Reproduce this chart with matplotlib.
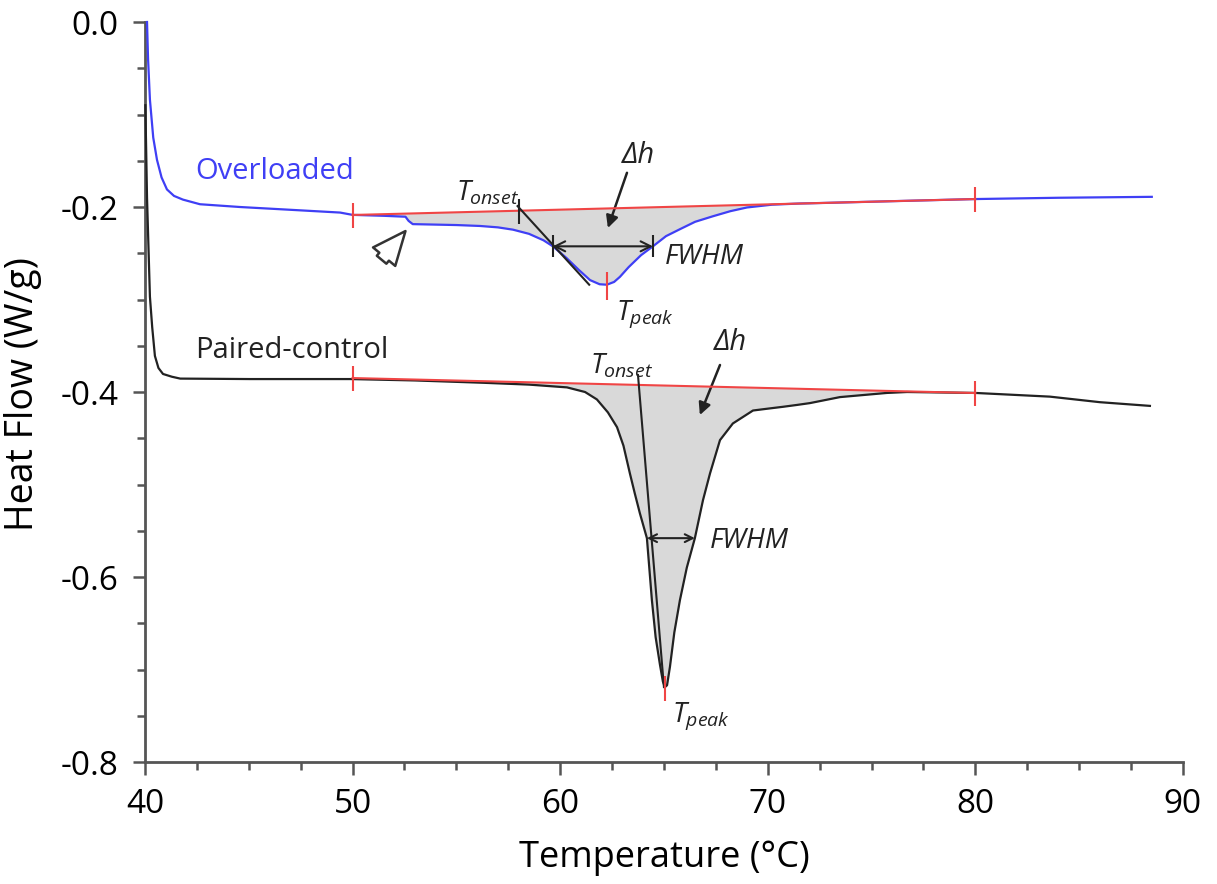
import numpy as np
import matplotlib.pyplot as plt
from matplotlib.ticker import MultipleLocator, FormatStrFormatter

plt.rcParams['font.family'] = ['Open Sans', 'DejaVu Sans']
plt.rcParams['mathtext.fontset'] = 'custom'
plt.rcParams['mathtext.it'] = 'Open Sans:italic'
plt.rcParams['mathtext.rm'] = 'Open Sans'
plt.rcParams['axes.unicode_minus'] = False

# overloaded sample (blue)
t_over = [40.1, 40.15, 40.24, 40.4, 40.58, 40.8, 41.06, 41.4, 41.83, 42.65, 44.58,
          47.0, 49.4, 50.0, 51.5, 52.55, 52.7, 52.9, 55.0, 56.14, 57.0, 57.73,
          58.5, 59.2, 59.65, 60.3, 60.9, 61.44, 61.9, 62.25, 62.6, 62.88, 63.3,
          63.9, 64.47, 65.1, 65.77, 66.5, 67.36, 68.2, 69.0, 70.2, 71.55, 72.0,
          76.0, 80.0, 84.0, 88.5]
hf_over = [0.0, -0.04, -0.084, -0.125, -0.149, -0.168, -0.181, -0.188, -0.192, -0.197, -0.200,
           -0.203, -0.206, -0.2085, -0.2095, -0.2105, -0.215, -0.2185, -0.2195, -0.2205, -0.222, -0.2245,
           -0.229, -0.236, -0.2425, -0.255, -0.268, -0.279, -0.2835, -0.284, -0.281, -0.2755, -0.265,
           -0.252, -0.2425, -0.2315, -0.224, -0.216, -0.210, -0.2045, -0.2005, -0.1975, -0.1962, -0.196,
           -0.1937, -0.1914, -0.1900, -0.189]

# paired-control sample (black)
t_ctrl = [40.02, 40.1, 40.24, 40.35, 40.48, 40.65, 40.87, 41.3, 41.7, 45.06, 49.9,
          53.0, 56.28, 58.5, 60.33, 61.2, 61.77, 62.3, 62.74, 63.05, 63.36, 63.6,
          63.84, 64.18, 64.42, 64.6, 64.81, 64.95, 65.05, 65.15, 65.29, 65.5, 65.77,
          66.1, 66.49, 66.88, 67.22, 67.7, 68.32, 69.29, 70.0, 70.73, 71.4, 72.03,
          73.48, 75.74, 76.71, 80.0, 83.59, 86.0, 88.41]
hf_ctrl = [-0.09, -0.19, -0.297, -0.330, -0.361, -0.374, -0.3805, -0.3835, -0.3855, -0.386, -0.386,
           -0.3875, -0.390, -0.392, -0.395, -0.400, -0.408, -0.422, -0.438, -0.458, -0.488, -0.510,
           -0.531, -0.558, -0.625, -0.665, -0.695, -0.713, -0.719, -0.717, -0.697, -0.660, -0.625,
           -0.590, -0.558, -0.517, -0.488, -0.452, -0.434, -0.420, -0.418, -0.416, -0.414, -0.412,
           -0.4055, -0.401, -0.400, -0.401, -0.405, -0.411, -0.415]

# integration limits and baselines
base_t = [50.0, 80.0]
base_over = [-0.2086, -0.1914]
base_ctrl = [-0.3849, -0.4011]

# characteristic points
onset_over_t, peak_over_t = 58.0, 62.25
fwhm_over = [59.65, 64.47]
fwhm_over_h = -0.2425
tangent_over = ([57.95, 61.4], [-0.199, -0.284])

peak_ctrl_t = 65.05
fwhm_ctrl = [64.18, 66.49]
fwhm_ctrl_h = -0.558
tangent_ctrl = ([63.75, 65.0], [-0.3816, -0.719])

blue = '#3f3ff5'
red = '#f04545'
ink = '#222222'

fig = plt.figure(figsize=(12.17, 8.84), dpi=100)
ax = fig.add_axes([0.1191, 0.138, 0.8529, 0.8371])

for t, h, base in [(t_over, hf_over, base_over), (t_ctrl, hf_ctrl, base_ctrl)]:
    t = np.array(t)
    h = np.array(h)
    b = np.interp(t, base_t, base)
    ax.fill_between(t, h, b, where=(t >= base_t[0]) & (t <= base_t[1]) & (h < b),
                    interpolate=True, color='#d9d9d9', lw=0, zorder=1)

ax.plot(t_over, hf_over, color=blue, lw=1.6, zorder=3, clip_on=False)
ax.plot(t_ctrl, hf_ctrl, color=ink, lw=1.6, zorder=3, clip_on=False)

for base in (base_over, base_ctrl):
    ax.plot(base_t, base, color=red, lw=1.5, zorder=4)
    ax.plot(base_t, base, ls='none', marker='|', ms=18, mew=1.5, color=red, zorder=4)

# overloaded annotations
ax.plot(*tangent_over, color=ink, lw=1.5, zorder=5)
ax.plot([onset_over_t], [np.interp(onset_over_t, base_t, base_over)], marker='|', ms=18, mew=1.5,
        color=ink, zorder=5)
ax.annotate('', xy=(fwhm_over[0], fwhm_over_h), xytext=(fwhm_over[1], fwhm_over_h),
            arrowprops=dict(arrowstyle='<->', color=ink, lw=1.5, shrinkA=0, shrinkB=0,
                            mutation_scale=18), zorder=5)
ax.plot(fwhm_over, [fwhm_over_h] * 2, ls='none', marker='|', ms=16, mew=1.5, color=ink, zorder=5)
ax.plot([peak_over_t], [-0.2855], marker='|', ms=20, mew=1.5, color=red, zorder=5)
ax.annotate('', xy=(62.3, -0.2227), xytext=(63.22, -0.163),
            arrowprops=dict(arrowstyle='-|>', color=ink, lw=1.8, shrinkA=0, shrinkB=0,
                            mutation_scale=18))
# hollow pointer at the step in the overloaded trace
ax.annotate('', xy=(52.55, -0.226), xytext=(51.4, -0.257),
            arrowprops=dict(arrowstyle='simple,head_length=0.75,head_width=0.65,tail_width=0.28',
                            fc='white', ec='#333333', lw=1.8, shrinkA=0, shrinkB=0,
                            mutation_scale=32))

ax.text(42.4, -0.162, 'Overloaded', color=blue, fontsize=21, va='center')
ax.text(55.0, -0.185, r'$T_{onset}$', fontsize=20, va='center', color=ink)
ax.text(63.75, -0.144, 'Δh', fontsize=21, style='italic', ha='center', va='center', color=ink)
ax.text(65.05, -0.2545, 'FWHM', fontsize=20, style='italic', va='center', color=ink)
ax.text(62.7, -0.3155, r'$T_{peak}$', fontsize=20, va='center', color=ink)

# paired-control annotations
ax.plot(*tangent_ctrl, color=ink, lw=1.5, zorder=5)
ax.annotate('', xy=(fwhm_ctrl[0], fwhm_ctrl_h), xytext=(fwhm_ctrl[1], fwhm_ctrl_h),
            arrowprops=dict(arrowstyle='<->', color=ink, lw=1.5, shrinkA=0, shrinkB=0,
                            mutation_scale=14), zorder=5)
ax.plot([peak_ctrl_t], [-0.7205], marker='|', ms=18, mew=1.5, color=red, zorder=5)
ax.annotate('', xy=(66.73, -0.4249), xytext=(67.7, -0.3708),
            arrowprops=dict(arrowstyle='-|>', color=ink, lw=1.8, shrinkA=0, shrinkB=0,
                            mutation_scale=18))

ax.text(42.4, -0.355, 'Paired-control', color=ink, fontsize=21, va='center')
ax.text(61.45, -0.372, r'$T_{onset}$', fontsize=20, va='center', color=ink)
ax.text(68.2, -0.347, 'Δh', fontsize=21, style='italic', ha='center', va='center', color=ink)
ax.text(67.22, -0.561, 'FWHM', fontsize=20, style='italic', va='center', color=ink)
ax.text(65.4, -0.750, r'$T_{peak}$', fontsize=20, va='center', color=ink)

ax.set_xlim(40, 90)
ax.set_ylim(-0.8, 0.0)
ax.xaxis.set_major_locator(MultipleLocator(10))
ax.xaxis.set_minor_locator(MultipleLocator(2.5))
ax.yaxis.set_major_locator(MultipleLocator(0.2))
ax.yaxis.set_minor_locator(MultipleLocator(0.05))
ax.yaxis.set_major_formatter(FormatStrFormatter('%.1f'))

for side in ('top', 'right'):
    ax.spines[side].set_visible(False)
for side in ('left', 'bottom'):
    ax.spines[side].set_color('#555555')
    ax.spines[side].set_linewidth(2)

ax.tick_params(which='both', direction='out', color='#555555', width=1.8, labelsize=24)
ax.tick_params(which='major', length=9)
ax.tick_params(which='minor', length=6)
ax.tick_params(axis='x', pad=10)
ax.tick_params(axis='y', pad=10)

# end caps crossing the axes at 90 and 0.0
ax.xaxis.get_major_ticks()[-1].tick1line.set_marker('|')
ax.xaxis.get_major_ticks()[-1].tick1line.set_markersize(16)
ax.yaxis.get_major_ticks()[-1].tick1line.set_marker('_')
ax.yaxis.get_major_ticks()[-1].tick1line.set_markersize(24)

ax.set_xlabel('Temperature (°C)', fontsize=26)
ax.set_ylabel('Heat Flow (W/g)', fontsize=27)
ax.xaxis.set_label_coords(0.5, -0.105)
ax.yaxis.set_label_coords(-0.099, 0.497)

fig.savefig('out.png', dpi=100)
